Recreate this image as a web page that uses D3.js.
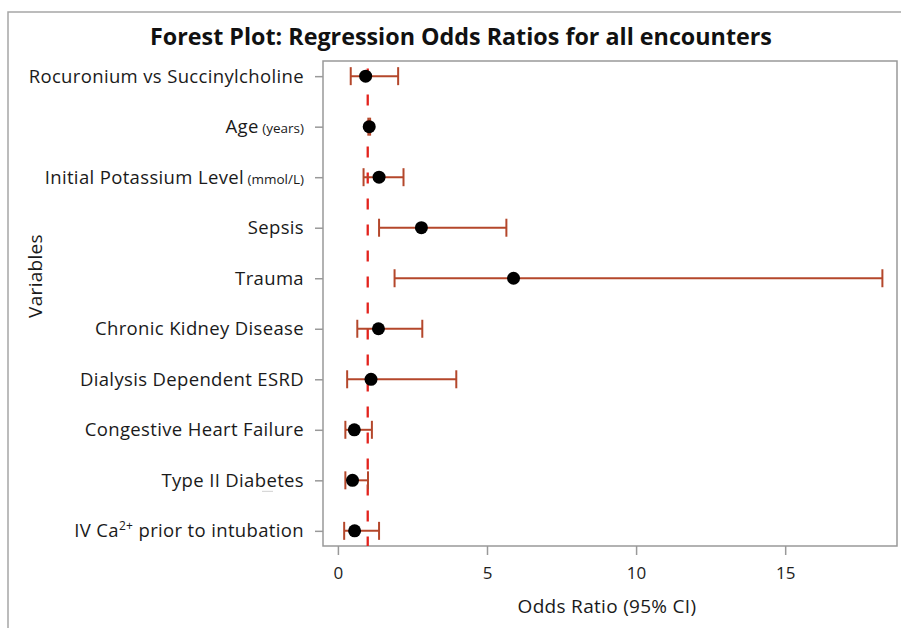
<!DOCTYPE html>
<html><head><meta charset="utf-8">
<script src="https://cdn.jsdelivr.net/npm/d3@7"></script>
<style>body{margin:0;background:#fff}svg{display:block}</style>
</head><body>
<svg id="chart" width="901" height="628"></svg>
<script>
// ---- data ----
const categories = ["Rocuronium vs Succinylcholine","Age","Initial Potassium Level","Sepsis","Trauma",
  "Chronic Kidney Disease","Dialysis Dependent ESRD","Congestive Heart Failure","Type II Diabetes","IV Ca2+ prior to intubation"];
const units = ["","(years)","(mmol/L)","","","","","","",""];
const oddsRatio = [0.93,1.05,1.38,2.80,5.89,1.36,1.11,0.55,0.49,0.56];
const ciLower  = [0.43,1.02,0.86,1.38,1.90,0.65,0.31,0.25,0.25,0.21];
const ciUpper  = [2.02,1.08,2.20,5.65,18.26,2.83,3.97,1.14,1.01,1.38];
const xTicks = [0,5,10,15];
const refValue = 1;
const titleText = "Forest Plot: Regression Odds Ratios for all encounters";
const xLabel = "Odds Ratio (95% CI)";
const yLabel = "Variables";

// ---- layout ----
const W = 901, H = 628;
const plot = {left:323, top:61, right:897, bottom:546};
const FONT = "'Open Sans', sans-serif";
const svg = d3.select("#chart");
const rows = categories.map((c,i)=>({cat:c, unit:units[i], or:oddsRatio[i], lo:ciLower[i], hi:ciUpper[i]}));

const x = d3.scaleLinear().domain([-0.5,18.75]).range([plot.left, plot.right]);
const y = d3.scalePoint().domain(categories).range([plot.top, plot.bottom]).padding(0.3);

// outer frame (top + left)
svg.append("path").attr("d", `M8,${H} L8,12 L${W},12`).attr("fill","none").attr("stroke","#a6a6a6").attr("stroke-width",1.5);

// title
svg.append("text").attr("x",461).attr("y",45).attr("text-anchor","middle")
  .attr("font-family",FONT).attr("font-weight",700).attr("font-size",23.3).attr("fill","#111").text(titleText);

// plot frame
svg.append("rect").attr("x",plot.left).attr("y",plot.top).attr("width",plot.right-plot.left).attr("height",plot.bottom-plot.top)
  .attr("fill","none").attr("stroke","#999").attr("stroke-width",1.5);

// x axis
const gx = svg.append("g").attr("transform",`translate(0,${plot.bottom})`)
  .call(d3.axisBottom(x).tickValues(xTicks).tickSize(9).tickPadding(12));
gx.select(".domain").remove();
gx.selectAll("line").attr("stroke","#999").attr("stroke-width",1.5);
gx.selectAll("text").attr("font-family",FONT).attr("font-size",17).attr("fill","#222");

// y axis
const gy = svg.append("g").attr("transform",`translate(${plot.left},0)`)
  .call(d3.axisLeft(y).tickSize(8).tickPadding(11));
gy.select(".domain").remove();
gy.selectAll("line").attr("stroke","#999").attr("stroke-width",1.5);
gy.selectAll("text").attr("font-family",FONT).attr("font-size",18.5).attr("letter-spacing",0.35).attr("fill","#1a1a1a")
  .each(function(d,i){
    const t = d3.select(this); t.text("");
    const m = d.match(/^(.*?)(2\+)(.*)$/);
    if (m) {
      t.append("tspan").text(m[1]);
      t.append("tspan").attr("font-size",12).attr("dy",-7).text(m[2]);
      t.append("tspan").attr("dy",7).text(m[3]);
    } else {
      t.append("tspan").text(d);
    }
    if (units[i]) t.append("tspan").attr("font-size",13.5).attr("letter-spacing",0).text(" " + units[i]);
  });

// axis titles
svg.append("text").attr("x",607).attr("y",613).attr("text-anchor","middle")
  .attr("font-family",FONT).attr("font-size",19).attr("letter-spacing",0.3).attr("fill","#1a1a1a").text(xLabel);
svg.append("text").attr("transform","translate(42,276) rotate(-90)").attr("text-anchor","middle")
  .attr("font-family",FONT).attr("font-size",19).attr("letter-spacing",0.3).attr("fill","#1a1a1a").text(yLabel);

// small artifact dash under Type II Diabetes label
svg.append("line").attr("x1",262).attr("x2",273).attr("y1",y("Type II Diabetes")+11).attr("y2",y("Type II Diabetes")+11)
  .attr("stroke","#d0d0d0").attr("stroke-width",1);

// reference line
svg.append("line").attr("x1",x(refValue)).attr("x2",x(refValue)).attr("y1",plot.top+1).attr("y2",plot.bottom)
  .attr("stroke","#e3231d").attr("stroke-width",2.3).attr("stroke-dasharray","11,15").attr("stroke-dashoffset",19.5);

// error bars
const ec = "#b4472b", capH = 9;
const g = svg.append("g");
const eb = g.selectAll("g.eb").data(rows).join("g").attr("class","eb");
eb.append("line").attr("x1",d=>x(d.lo)).attr("x2",d=>x(d.hi)).attr("y1",d=>y(d.cat)).attr("y2",d=>y(d.cat))
  .attr("stroke",ec).attr("stroke-width",2);
eb.append("line").attr("x1",d=>x(d.lo)).attr("x2",d=>x(d.lo)).attr("y1",d=>y(d.cat)-capH).attr("y2",d=>y(d.cat)+capH)
  .attr("stroke",ec).attr("stroke-width",2);
eb.append("line").attr("x1",d=>x(d.hi)).attr("x2",d=>x(d.hi)).attr("y1",d=>y(d.cat)-capH).attr("y2",d=>y(d.cat)+capH)
  .attr("stroke",ec).attr("stroke-width",2);
eb.append("circle").attr("cx",d=>x(d.or)).attr("cy",d=>y(d.cat)).attr("r",6.5).attr("fill","#000");
</script>
</body></html>
